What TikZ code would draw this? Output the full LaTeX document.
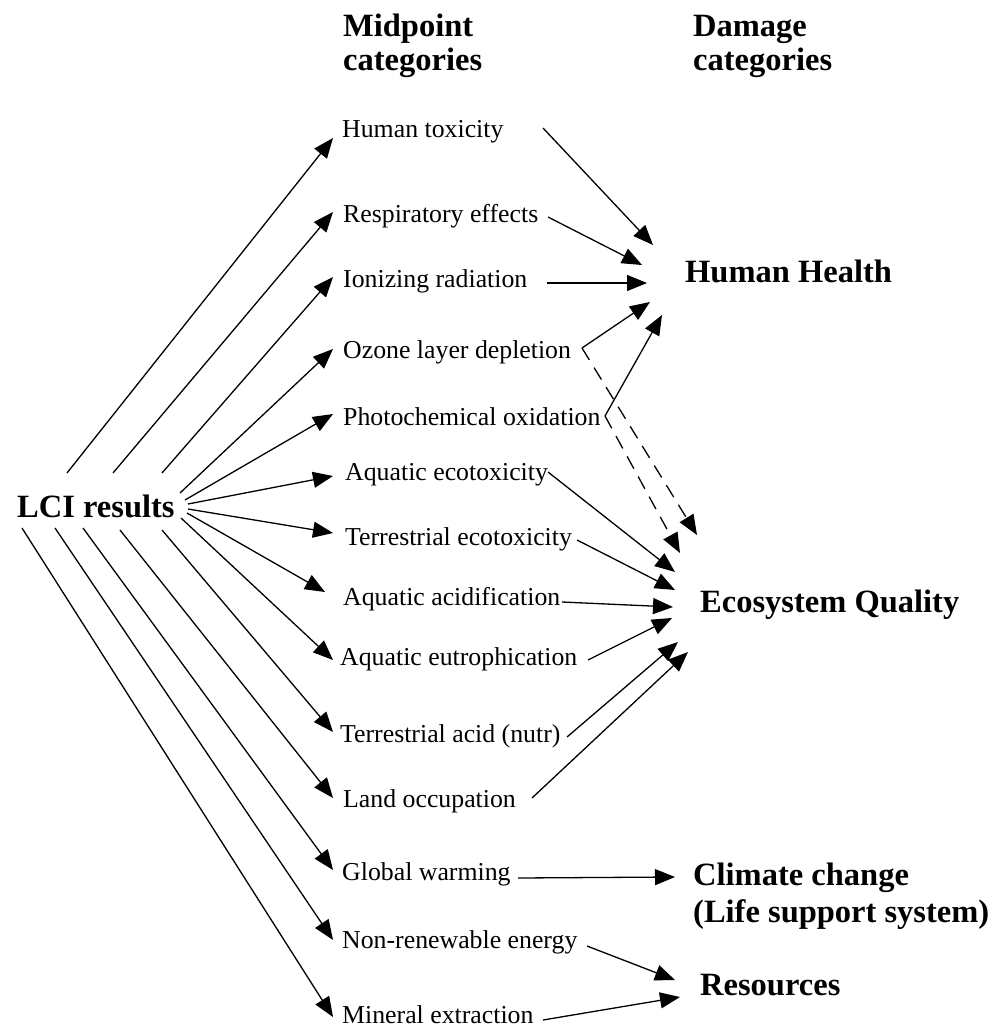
\documentclass[tikz,border=0pt]{standalone}
\usepackage{fontspec}
\setmainfont{Liberation Serif}
\usetikzlibrary{arrows.meta,calc}
\begin{document}
\begin{tikzpicture}[x=1pt,y=-1pt,
  mid/.style={anchor=base west,inner sep=0pt,font=\fontsize{25.8}{30}\selectfont},
  big/.style={anchor=base west,inner sep=0pt,font=\fontsize{32.5}{37}\selectfont\bfseries},
  hdr/.style={anchor=base west,inner sep=0pt,align=left,font=\fontsize{32.5}{34}\selectfont\bfseries},
  conn/.style={line width=1.3pt,-{Triangle[length=20pt,width=16pt]}},
  dconn/.style={conn,dash pattern=on 14pt off 9pt}]
\useasboundingbox (0,0) rectangle (1005,1027);
% headers (base anchor = last line)
\node[hdr] (hmid) at (343,71) {Midpoint\\categories};
\node[hdr] (hdam) at (693,71) {Damage\\categories};
% source
\node[big] (lci) at (17,517) {LCI results};
% midpoint categories
\node[mid] (ht) at (342,138) {Human toxicity};
\node[mid] (re) at (343,222) {Respiratory effects};
\node[mid] (ir) at (343,287) {Ionizing radiation};
\node[mid] (ol) at (343,358) {Ozone layer depletion};
\node[mid] (pc) at (343,425) {Photochemical oxidation};
\node[mid] (ae) at (345,480) {Aquatic ecotoxicity};
\node[mid] (te) at (345,545) {Terrestrial ecotoxicity};
\node[mid] (aa) at (343,605) {Aquatic acidification};
\node[mid] (eu) at (340,665) {Aquatic eutrophication};
\node[mid] (ta) at (340,742) {Terrestrial acid (nutr)};
\node[mid] (lo) at (343,807) {Land occupation};
\node[mid] (gw) at (342,880) {Global warming};
\node[mid] (ne) at (342,948) {Non-renewable energy};
\node[mid] (me) at (342,1023) {Mineral extraction};
% damage categories
\node[big] (hh) at (685,282) {Human Health};
\node[big] (eq) at (700,612) {Ecosystem Quality};
\node[big,align=left] (cc) at (693,922) {Climate change\\(Life support system)};
\node[big] (rs) at (700,995) {Resources};
% LCI -> midpoint
\draw[conn] ($(lci.base west)+(50,-44)$) -- ($(ht.base west)+(-9,0)$);
\draw[conn] ($(lci.base west)+(96,-44)$) -- ($(re.base west)+(-10,-10)$);
\draw[conn] ($(lci.base west)+(145,-44)$) -- ($(ir.base west)+(-10,-10)$);
\draw[conn] ($(lci.base west)+(163,-24)$) -- ($(ol.base west)+(-10,-9)$);
\draw[conn] ($(lci.base west)+(168,-17)$) -- ($(pc.base west)+(-10,-11)$);
\draw[conn] ($(lci.base west)+(171,-13)$) -- ($(ae.base west)+(-12,-4)$);
\draw[conn] ($(lci.base west)+(171,-8)$) -- ($(te.base west)+(-12,-12)$);
\draw[conn] ($(lci.base west)+(170,-4)$) -- ($(aa.base west)+(-18,-13)$);
\draw[conn] ($(lci.base west)+(164,1)$) -- ($(eu.base west)+(-7,-5)$);
\draw[conn] ($(lci.base west)+(145,13)$) -- ($(ta.base west)+(-7,-10)$);
\draw[conn] ($(lci.base west)+(103,13)$) -- ($(lo.base west)+(-10,-9)$);
\draw[conn] ($(lci.base west)+(66,11)$) -- ($(gw.base west)+(-9,-10)$);
\draw[conn] ($(lci.base west)+(38,11)$) -- ($(ne.base west)+(-9,-8)$);
\draw[conn] ($(lci.base west)+(5,11)$) -- ($(me.base west)+(-9,-6)$);
% midpoint -> Human Health
\draw[conn] ($(ht.base west)+(201,-10)$) -- ($(hh.base west)+(-32,-37)$);
\draw[conn] ($(re.base west)+(205,-5)$) -- ($(hh.base west)+(-43,-17)$);
\draw[conn] ($(ir.base west)+(204,-4)$) -- ($(hh.base west)+(-38,1)$);
\draw[conn] ($(ol.base west)+(239,-10)$) -- ($(hh.base west)+(-35,20)$);
\draw[conn] ($(pc.base west)+(262,-9)$) -- ($(hh.base west)+(-23,33)$);
% dashed to Ecosystem Quality
\draw[dconn] ($(ol.base west)+(239,-10)$) -- ($(eq.base west)+(-3,-77)$);
\draw[dconn] ($(pc.base west)+(262,-9)$) -- ($(eq.base west)+(-20,-59)$);
% midpoint -> Ecosystem Quality
\draw[conn] ($(ae.base west)+(203,-8)$) -- ($(eq.base west)+(-25,-40)$);
\draw[conn] ($(te.base west)+(232,-5)$) -- ($(eq.base west)+(-25,-22)$);
\draw[conn] ($(aa.base west)+(219,-3)$) -- ($(eq.base west)+(-27,-5)$);
\draw[conn] ($(eu.base west)+(248,-5)$) -- ($(eq.base west)+(-28,6)$);
\draw[conn] ($(ta.base west)+(227,-5)$) -- ($(eq.base west)+(-22,30)$);
\draw[conn] ($(lo.base west)+(189,-9)$) -- ($(eq.base west)+(-12,40)$);
% climate change and resources
\draw[conn] ($(gw.base west)+(176,-2)$) -- ($(cc.base west)+(-18,-45)$);
\draw[conn] ($(ne.base west)+(245,-2)$) -- ($(rs.base west)+(-25,-15)$);
\draw[conn] ($(me.base west)+(201,-3)$) -- ($(rs.base west)+(-20,2)$);
\end{tikzpicture}
\end{document}
